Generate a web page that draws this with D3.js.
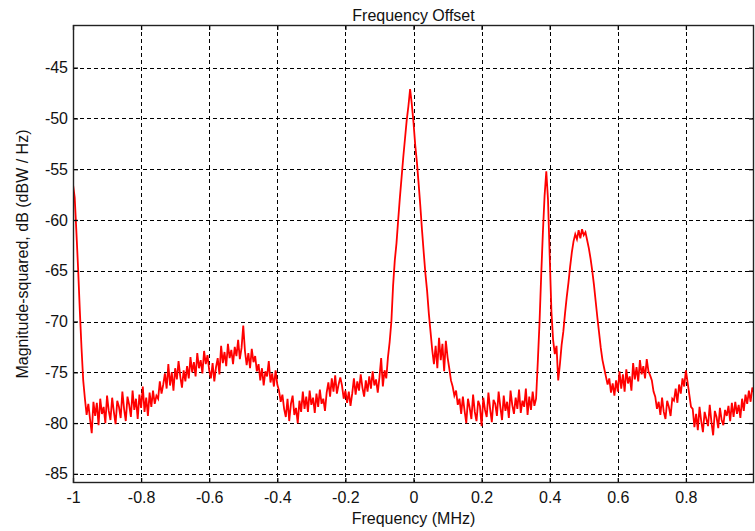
<!DOCTYPE html>
<html><head><meta charset="utf-8">
<script src="https://cdn.jsdelivr.net/npm/d3@7"></script>
<style>
body{margin:0;background:#fff}
text{font-family:Arial,"Liberation Sans",sans-serif}
</style>
</head><body>
<svg id="c" width="755" height="531"></svg>
<script>
// Sampling grid of the spectrum (MHz)
const freqStart = -1, freqStep = 0.005;
// Magnitude-squared values (dB, dBW/Hz), one per frequency sample
const psd = [
 -56.5,-57.8,-61.2,-64.8,-68.9,-72.6,-75.8,-77.6,-79.2,
 -78.1,-79.6,-81.0,-77.9,-79.3,-78.0,-80.2,-77.6,-79.1,-78.4,-80.0,-77.3,-78.8,-79.7,-77.5,-78.9,-80.1,-77.8,-78.4,-79.5,-76.9,-78.6,-79.8,-77.4,-78.2,-79.4,-76.8,-78.7,-77.6,-79.6,-77.2,-78.5,
 -76.4,-78.9,-77.5,-79.3,-77.0,-78.4,-76.8,-78.1,-77.3,
 -77.6,-75.9,-77.1,-76.2,-75.1,-76.6,
 -74.2,-76.3,-75.0,-76.8,-74.6,-75.7,-73.9,-75.4,-76.5,-74.8,-75.9,-74.4,-75.6,
 -73.5,-75.0,-74.0,-75.4,-73.1,-74.6,-73.8,-75.1,-72.9,-74.2,-73.3,-74.8,
 -75.6,-74.1,-75.9,-74.5,-73.6,-75.2,
 -72.4,-74.1,-73.0,-74.4,-72.2,-73.6,-72.8,-74.2,-72.5,-73.4,-71.8,-73.7,-72.6,
 -70.4,
 -72.9,-74.3,-73.1,-74.6,-72.7,-74.0,-73.4,-74.9,
 -74.2,-75.8,-74.6,-76.3,-74.9,-75.4,-73.9,-76.0,-75.1,-76.4,-74.8,-76.2,
 -76.8,-77.9,-77.2,-78.6,
 -79.4,-77.6,-79.8,-78.1,-77.3,-79.2,-78.5,-80.0,-77.8,-78.9,
 -76.9,-78.6,-77.4,-78.9,-76.8,-78.2,-77.5,-79.0,-77.1,-78.4,-76.7,-78.1,-77.6,-78.8,-77.0,
 -76.0,-77.4,-75.6,-76.9,-75.3,-77.1,-76.2,-75.5,
 -76.3,-77.6,-76.8,
 -78.0,-76.9,-78.3,-77.1,
 -75.6,-77.2,-75.9,-76.8,-75.2,-76.5,-77.4,-75.8,-76.9,-75.4,-76.6,-74.9,-76.3,-75.7,-77.0,-75.5,-73.6,-76.4,
 -74.8,-75.6,
 -73.5,-72.0,-70.0,-66.5,-64.0,-62.3,-60.0,-57.8,-55.8,-53.8,-52.0,-50.2,-48.8,-47.1,
 -48.6,-50.4,-52.6,-54.3,-56.4,-58.6,-61.0,-63.2,-65.3,-67.0,-69.2,-71.0,-72.8,-74.2,
 -72.4,-74.6,-71.6,-73.8,-72.2,-74.9,-71.9,-73.5,
 -74.6,-75.8,-76.4,-77.3,-76.8,-78.2,-77.6,
 -79.1,-77.4,-78.8,-80.0,-77.6,-78.5,-79.6,-77.2,-78.9,-79.8,
 -77.8,-78.3,-80.3,-77.5,-78.7,-79.4,-77.0,-78.6,-79.9,-77.7,
 -78.1,-79.3,-76.9,-78.4,-79.7,-77.3,-78.8,-77.9,-79.5,-76.8,
 -78.2,-79.1,-77.5,-78.6,-76.7,-79.0,-77.8,-78.4,-76.6,-79.2,
 -77.4,-78.7,-76.9,-78.3,-77.6,
 -74.0,-70.2,-65.5,-61.2,-57.6,-55.2,-58.0,-63.5,-69.0,-71.8,-73.2,-72.4,-75.8,-74.2,-72.3,-71.0,
 -69.2,-67.6,-66.2,-64.6,-63.2,-62.1,-61.4,-61.9,-61.0,-61.8,-60.9,-61.5,-61.2,-62.0,-62.8,-63.8,
 -65.0,-66.4,-68.0,-69.6,-71.1,-72.6,-73.8,-74.6,-75.4,-76.2,-75.6,-77.0,-76.1,-77.3,-75.8,-76.9,
 -74.9,-76.6,-75.2,-76.9,-74.7,-76.1,-75.4,-76.8,
 -74.1,-75.7,-74.5,-75.9,-73.8,-75.2,-74.4,-75.6,-73.7,-74.9,-75.3,
 -75.8,-76.9,-77.4,-78.6,-77.9,
 -79.2,-77.5,-78.9,-79.6,-77.8,-78.4,-79.3,-77.6,
 -77.8,-76.6,-78.0,-76.2,-77.1,-75.6,-76.4,-74.8,
 -76.0,-77.2,-78.4,
 -78.6,-80.4,-79.1,-80.7,-78.4,-79.8,-80.9,-78.9,-79.6,-80.3,-78.2,-79.9,-81.2,-78.8,-79.4,-80.5,-78.5,-79.7,-80.2,-78.7,-79.3,
 -78.3,-79.8,-78.0,-79.4,-77.9,-79.1,-78.2,-79.5,
 -77.6,-78.8,-77.2,-78.1,-76.8,-77.9,-76.5,-77.0
];
const xTicks = [-1,-0.8,-0.6,-0.4,-0.2,0,0.2,0.4,0.6,0.8];
const xTickLabels = ["-1","-0.8","-0.6","-0.4","-0.2","0","0.2","0.4","0.6","0.8"];
const yTicks = [-45,-50,-55,-60,-65,-70,-75,-80,-85];
const yTickLabels = ["-45","-50","-55","-60","-65","-70","-75","-80","-85"];
const titleText = "Frequency Offset";
const xLabelText = "Frequency (MHz)";
const yLabelText = "Magnitude-squared, dB (dBW / Hz)";

const svg = d3.select("#c");
const L = 73, R = 754, T = 25, B = 483;
const x = d3.scaleLinear().domain([-1, 1]).range([L, R]);
const y = d3.scaleLinear().domain([-85.9, -40.8]).range([B, T]);

// grid
const grid = svg.append("g").attr("stroke", "#000").attr("stroke-width", 1.3).attr("stroke-dasharray", "4,3").attr("shape-rendering","crispEdges");
grid.selectAll(".vx").data(xTicks.filter(d => d > -1)).join("line")
  .attr("x1", d => Math.round(x(d)) + 0.5).attr("x2", d => Math.round(x(d)) + 0.5)
  .attr("y1", T).attr("y2", B);
grid.selectAll(".hy").data(yTicks).join("line")
  .attr("y1", d => Math.round(y(d)) + 0.5).attr("y2", d => Math.round(y(d)) + 0.5)
  .attr("x1", L).attr("x2", R);

// trace
svg.append("defs").append("clipPath").attr("id", "clip").append("rect")
  .attr("x", L).attr("y", T).attr("width", R - L).attr("height", B - T);
const line = d3.line().x((d, i) => x(freqStart + i * freqStep)).y(d => y(d));
svg.append("path").datum(psd).attr("clip-path", "url(#clip)")
  .attr("fill", "none").attr("stroke", "#ff0000").attr("stroke-width", 1.8)
  .attr("stroke-linejoin", "miter").attr("d", line);

// axes
const fs = "16px";
const ax = svg.append("g").attr("transform", `translate(0,${B})`)
  .call(d3.axisBottom(x).tickValues(xTicks).tickFormat((d, i) => xTickLabels[i]).tickSizeInner(-5).tickSizeOuter(0).tickPadding(9));
const ay = svg.append("g").attr("transform", `translate(${L},0)`)
  .call(d3.axisLeft(y).tickValues(yTicks).tickFormat((d, i) => yTickLabels[i]).tickSizeInner(-5).tickSizeOuter(0).tickPadding(5));
const at = svg.append("g").attr("transform", `translate(0,${T})`)
  .call(d3.axisTop(x).tickValues(xTicks).tickFormat("").tickSizeInner(-5).tickSizeOuter(0));
const ar = svg.append("g").attr("transform", `translate(${R},0)`)
  .call(d3.axisRight(y).tickValues(yTicks).tickFormat("").tickSizeInner(-5).tickSizeOuter(0));
[ax, ay, at, ar].forEach(g => {
  g.select(".domain").remove();
  g.selectAll("line").attr("stroke", "#000").attr("stroke-width", 1.3);
  g.selectAll("text").attr("font-size", fs).attr("fill", "#111").attr("font-family", "Arial, 'Liberation Sans', sans-serif");
});
svg.append("rect").attr("x", L + 0.5).attr("y", T + 0.5).attr("width", R - L - 1).attr("height", B - T - 1)
  .attr("fill", "none").attr("stroke", "#222").attr("stroke-width", 1.4);

// titles
svg.append("text").attr("x", (L + R) / 2).attr("y", 21).attr("text-anchor", "middle")
  .attr("font-size", fs).attr("fill", "#111").text(titleText);
svg.append("text").attr("x", (L + R) / 2).attr("y", 524).attr("text-anchor", "middle")
  .attr("font-size", fs).attr("fill", "#111").text(xLabelText);
svg.append("text").attr("transform", `translate(28,${(T + B) / 2}) rotate(-90)`).attr("text-anchor", "middle")
  .attr("font-size", fs).attr("fill", "#111").text(yLabelText);
</script>
</body></html>
